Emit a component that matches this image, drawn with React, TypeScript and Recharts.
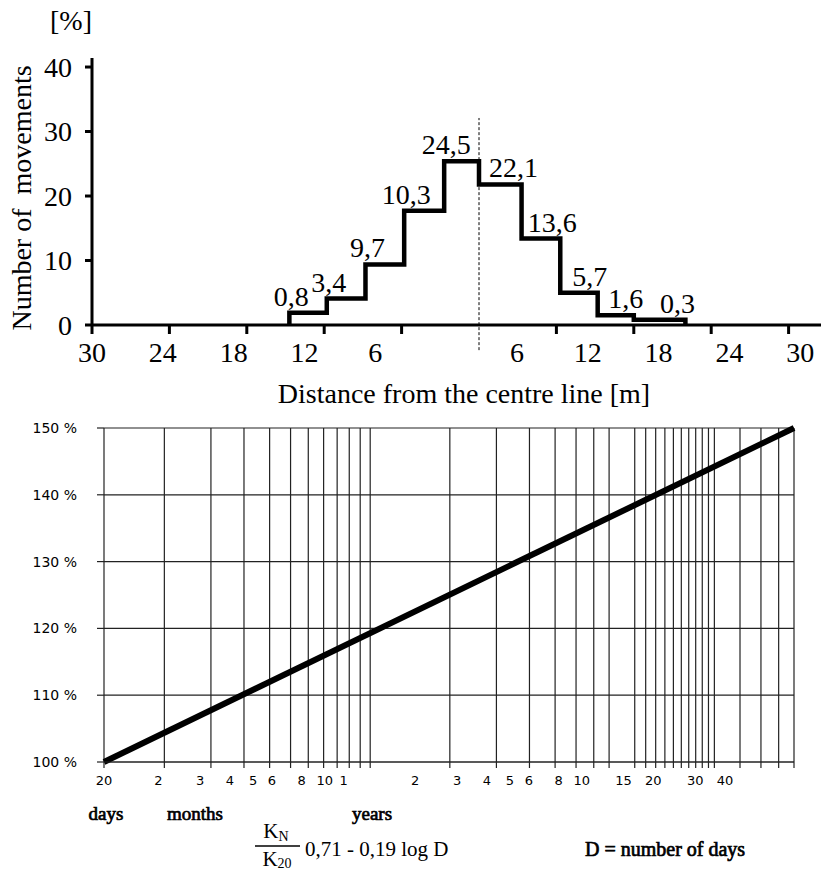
import React from "react";
import {
  ComposedChart,
  LineChart,
  Line,
  Scatter,
  XAxis,
  YAxis,
  CartesianGrid,
  ReferenceLine,
} from "recharts";

const SERIF = '"Liberation Serif", "Times New Roman", serif';
const SANS = '"DejaVu Sans", Verdana, sans-serif';

// top chart: movements by distance from the centre line (x in metres, - = left side)
const binEdges = [-14.7, -11.8, -8.8, -5.8, -2.7, 0, 3.3, 6.3, 9.2, 12, 16];
const binHeights = [1.9, 4.1, 9.4, 17.7, 25.4, 21.8, 13.4, 5.0, 1.5, 0.8];
const binLabels = ["0,8", "3,4", "9,7", "10,3", "24,5", "22,1", "13,6", "5,7", "1,6", "0,3"];
const distanceTicks = [-30, -24, -18, -12, -6, 6, 12, 18, 24, 30];
const shareTicks = [0, 10, 20, 30, 40];

// bottom chart: K_N / K_20 against time (log of days)
const MONTH = 365.25 / 12;
const YEAR = 365.25;
const axisStartDays = 36; // left edge, marked "20" days on the figure
const axisEndYears = 40;
const gridMonths = [2, 3, 4, 5, 6, 7, 8, 9, 10, 11];
const gridYears = [1, 2, 3, 4, 5, 6, 7, 8, 10, 11, 12, 13, 14, 15, 16, 17, 18, 19, 20, 25, 30, 35, 40];
const labelMonths = [2, 3, 4, 5, 6, 8, 10];
const labelYears = [1, 2, 3, 4, 5, 6, 8, 10, 15, 20, 30, 40];
const growthTicks = [100, 110, 120, 130, 140, 150];
const growthStart = 100;
const growthEnd = 150;

const stepData = [
  { x: binEdges[0], y: 0 },
  ...binHeights.map((h, i) => ({ x: binEdges[i], y: h })),
  { x: binEdges[binEdges.length - 1], y: 0 },
];

const labelData = binHeights.map((h, i) => {
  const left = binEdges[i] < 0;
  return { x: left ? binEdges[i] : binEdges[i + 1], y: h, label: binLabels[i], left };
});

const gridDays = [
  axisStartDays,
  ...gridMonths.map((m) => m * MONTH),
  ...gridYears.map((y) => y * YEAR),
];

const dayLabels = new Map<number, string>();
dayLabels.set(axisStartDays, "20");
gridMonths.forEach((m) => {
  if (labelMonths.includes(m)) dayLabels.set(m * MONTH, String(m));
});
gridYears.forEach((y) => {
  if (labelYears.includes(y)) dayLabels.set(y * YEAR, String(y));
});

const growthLine = [
  { d: axisStartDays, k: growthStart },
  { d: axisEndYears * YEAR, k: growthEnd },
];

// the printed tick labels sit on a slightly narrower scale than the ticks
const TOP_LEFT = 92;
const BOTTOM_LEFT = 104;

function DistanceTick(props: any) {
  const { x, y, payload } = props;
  const lx = TOP_LEFT + 0.915 * (x - TOP_LEFT);
  return (
    <text x={lx} y={y} dy="0.71em" textAnchor="middle" fontSize={28} fontFamily={SERIF} fill="#000">
      {Math.abs(payload.value)}
    </text>
  );
}

function DayTick(props: any) {
  const { x, y, payload } = props;
  const t = dayLabels.get(payload.value);
  if (!t) return <g />;
  const lx = BOTTOM_LEFT + 0.9 * (x - BOTTOM_LEFT);
  return (
    <text x={lx} y={y} dy="0.71em" textAnchor="middle" fontSize={13} fontFamily={SANS} fill="#000">
      {t}
    </text>
  );
}

function BinLabel(props: any) {
  const { cx, cy, payload } = props;
  return (
    <text
      x={cx + (payload.left ? 2 : -8)}
      y={cy - 7}
      textAnchor="middle"
      fontSize={28}
      fontFamily={SERIF}
      fill="#000"
    >
      {payload.label}
    </text>
  );
}

function DistributionChart() {
  return (
    <ComposedChart width={870} height={400} margin={{ top: 58, right: 4, bottom: 15, left: 52 }}>
      <XAxis
        type="number"
        dataKey="x"
        domain={[-30, 30]}
        ticks={distanceTicks}
        interval={0}
        allowDataOverflow
        height={60}
        tickSize={9}
        tickMargin={8}
        tick={<DistanceTick />}
        axisLine={{ stroke: "#000", strokeWidth: 3 }}
        tickLine={{ stroke: "#000", strokeWidth: 3 }}
      />
      <YAxis
        type="number"
        dataKey="y"
        domain={[0, 41.4]}
        ticks={shareTicks}
        interval={0}
        allowDataOverflow
        width={40}
        tickSize={7}
        tickMargin={13}
        tick={{ fontSize: 28, fontFamily: SERIF, fill: "#000" }}
        axisLine={{ stroke: "#000", strokeWidth: 3 }}
        tickLine={{ stroke: "#000", strokeWidth: 3 }}
      />
      <ReferenceLine
        segment={[
          { x: 0, y: -3.9 },
          { x: 0, y: 32.1 },
        ]}
        stroke="#000"
        strokeWidth={1}
        strokeDasharray="3 2"
        ifOverflow="visible"
      />
      <Line
        data={stepData}
        type="stepAfter"
        dataKey="y"
        stroke="#000"
        strokeWidth={4.5}
        strokeLinejoin="miter"
        dot={false}
        activeDot={false}
        isAnimationActive={false}
      />
      <Scatter data={labelData} dataKey="y" shape={<BinLabel />} isAnimationActive={false} />
    </ComposedChart>
  );
}

function GrowthChart() {
  return (
    <LineChart
      width={821}
      height={400}
      data={growthLine}
      margin={{ top: 28, right: 27, bottom: 8, left: 44 }}
    >
      <CartesianGrid stroke="#222" strokeWidth={1.2} />
      <XAxis
        type="number"
        dataKey="d"
        scale="log"
        domain={[axisStartDays, axisEndYears * YEAR]}
        ticks={gridDays}
        interval={0}
        height={30}
        tickSize={6}
        tickMargin={8}
        tick={<DayTick />}
        axisLine={{ stroke: "#222", strokeWidth: 1.2 }}
        tickLine={{ stroke: "#222", strokeWidth: 1.2 }}
      />
      <YAxis
        type="number"
        domain={[100, 150]}
        ticks={growthTicks}
        interval={0}
        width={60}
        tickSize={7}
        tickMargin={20}
        tickFormatter={(v: number) => `${v} %`}
        tick={{ fontSize: 14, fontFamily: SANS, fill: "#000" }}
        axisLine={false}
        tickLine={{ stroke: "#222", strokeWidth: 1.2 }}
      />
      <Line
        type="linear"
        dataKey="k"
        stroke="#000"
        strokeWidth={6}
        dot={false}
        activeDot={false}
        isAnimationActive={false}
      />
    </LineChart>
  );
}

// heavier serif lettering for the time units and the note, as in the print
const heavy = { stroke: "#000", strokeWidth: 0.7 };

export default function App() {
  return (
    <div
      style={{
        position: "absolute",
        left: 0,
        top: 0,
        width: 821,
        height: 874,
        overflow: "hidden",
        background: "#fff",
      }}
    >
      <div style={{ position: "absolute", left: 0, top: 0 }}>
        <DistributionChart />
      </div>
      <div style={{ position: "absolute", left: 0, top: 400 }}>
        <GrowthChart />
      </div>
      <svg
        width={821}
        height={874}
        style={{ position: "absolute", left: 0, top: 0, pointerEvents: "none" }}
      >
        <g fontFamily={SERIF} fill="#000">
          <text x={71} y={30} fontSize={28} textAnchor="middle">
            [%]
          </text>
          <text
            x={31}
            y={198}
            fontSize={28}
            textAnchor="middle"
            transform="rotate(-90, 31, 198)"
            style={{ whiteSpace: "pre" }}
          >
            {"Number of  movements"}
          </text>
          <text x={464} y={403} fontSize={28} textAnchor="middle">
            Distance from the centre line [m]
          </text>

          <text x={106} y={820} fontSize={19} textAnchor="middle" {...heavy}>
            days
          </text>
          <text x={195} y={820} fontSize={19} textAnchor="middle" {...heavy}>
            months
          </text>
          <text x={372} y={820} fontSize={19} textAnchor="middle" {...heavy}>
            years
          </text>

          <text x={276} y={838} fontSize={21} textAnchor="middle">
            K<tspan fontSize={14} dy={3}>N</tspan>
          </text>
          <line x1={255} x2={300} y1={846} y2={846} stroke="#000" strokeWidth={1.5} />
          <text x={277} y={866} fontSize={21} textAnchor="middle">
            K<tspan fontSize={14} dy={2}>20</tspan>
          </text>
          <text x={305} y={856} fontSize={21}>
            0,71 - 0,19 log D
          </text>
          <text x={585} y={856} fontSize={20} {...heavy}>
            D = number of days
          </text>
        </g>
      </svg>
    </div>
  );
}
